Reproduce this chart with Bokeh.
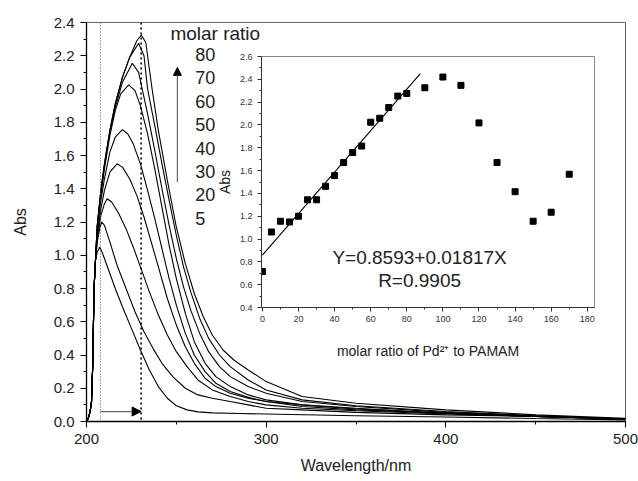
from bokeh.plotting import figure
from bokeh.models import Arrow, NormalHead, Span, FixedTicker, NumeralTickFormatter
from bokeh.layouts import column
from bokeh.core.properties import value
from bokeh.embed import file_html
from bokeh.resources import INLINE

FONT = "Liberation Sans"

# ---- main spectra (wavelength nm, absorbance) ----
rise_wl = [200, 201, 202, 202.8, 203.5, 204.2, 205]
rise_abs = [0.0, 0.02, 0.06, 0.12, 0.35, 0.80, 0.97]

c5_wl = [206, 207.4, 209, 212, 216, 220, 225, 230, 235, 240, 245, 250, 256, 262, 270, 285, 300, 350, 400, 450, 500]
c5_abs = [1.02, 1.05, 1.01, 0.92, 0.80, 0.69, 0.56, 0.43, 0.31, 0.21, 0.14, 0.095, 0.07, 0.058, 0.052, 0.048, 0.045, 0.035, 0.027, 0.018, 0.01]

c10_wl = [206, 207.5, 208.5, 210, 213, 217, 222, 227, 232, 237, 242, 248, 255, 262, 270, 280, 290, 300, 320, 350, 400, 450, 500]
c10_abs = [1.08, 1.17, 1.20, 1.18, 1.08, 0.94, 0.80, 0.66, 0.54, 0.44, 0.35, 0.27, 0.20, 0.16, 0.14, 0.12, 0.10, 0.08, 0.07, 0.055, 0.04, 0.03, 0.015]

c20_wl = [206, 208, 210, 211.5, 214, 218, 222, 226, 230, 235, 240, 245, 250, 256, 262, 270, 280, 290, 300, 320, 350, 400, 450, 500]
c20_abs = [1.10, 1.24, 1.31, 1.34, 1.32, 1.25, 1.16, 1.05, 0.93, 0.78, 0.64, 0.52, 0.42, 0.33, 0.25, 0.19, 0.15, 0.12, 0.10, 0.08, 0.065, 0.045, 0.03, 0.015]

c30_wl = [206, 208, 210, 213, 217, 220, 224, 228, 232, 236, 240, 245, 250, 255, 260, 266, 272, 280, 290, 300, 320, 350, 400, 450, 500]
c30_abs = [1.12, 1.28, 1.39, 1.50, 1.55, 1.53, 1.46, 1.36, 1.23, 1.08, 0.93, 0.74, 0.58, 0.45, 0.35, 0.26, 0.21, 0.17, 0.14, 0.12, 0.09, 0.07, 0.05, 0.03, 0.015]

c40_wl = [206, 208, 210, 213, 216, 220, 223, 226, 230, 234, 238, 242, 246, 250, 255, 260, 266, 272, 280, 290, 300, 320, 350, 400, 450, 500]
c40_abs = [1.15, 1.33, 1.46, 1.62, 1.71, 1.755, 1.73, 1.67, 1.55, 1.39, 1.22, 1.04, 0.86, 0.70, 0.53, 0.40, 0.30, 0.23, 0.18, 0.145, 0.12, 0.10, 0.075, 0.05, 0.03, 0.015]

c50_wl = [206, 208, 210, 213, 216, 219, 223.5, 227, 230, 234, 238, 242, 246, 250, 255, 260, 266, 272, 280, 290, 300, 320, 350, 400, 450, 500]
c50_abs = [1.17, 1.36, 1.52, 1.72, 1.87, 1.97, 2.025, 1.99, 1.90, 1.73, 1.52, 1.29, 1.06, 0.86, 0.65, 0.48, 0.35, 0.27, 0.21, 0.16, 0.13, 0.10, 0.08, 0.05, 0.03, 0.015]

c60_wl = [206, 208, 210, 213, 216, 220, 225.5, 229, 231, 234, 238, 242, 246, 250, 254, 258, 263, 268, 274, 280, 290, 300, 320, 350, 400, 450, 500]
c60_abs = [1.18, 1.38, 1.54, 1.74, 1.89, 2.04, 2.155, 2.10, 2.00, 1.85, 1.63, 1.40, 1.18, 0.98, 0.81, 0.67, 0.53, 0.42, 0.33, 0.27, 0.21, 0.17, 0.12, 0.09, 0.055, 0.035, 0.015]

c70_wl = [206, 208, 210, 213, 216, 220, 224, 229, 232, 234, 238, 242, 246, 250, 254, 258, 263, 268, 274, 280, 290, 300, 320, 350, 400, 450, 500]
c70_abs = [1.18, 1.39, 1.55, 1.75, 1.91, 2.07, 2.19, 2.275, 2.20, 2.00, 1.78, 1.55, 1.33, 1.12, 0.93, 0.78, 0.62, 0.50, 0.40, 0.33, 0.25, 0.19, 0.13, 0.095, 0.06, 0.035, 0.015]

c80_wl = [206, 208, 210, 213, 216, 220, 224, 228, 230.5, 233, 236.5, 240, 245, 250, 255, 260, 265, 270, 276, 282, 290, 300, 320, 350, 400, 450, 500]
c80_abs = [1.18, 1.39, 1.55, 1.75, 1.91, 2.07, 2.19, 2.29, 2.325, 2.28, 2.00, 1.75, 1.45, 1.17, 0.95, 0.77, 0.63, 0.52, 0.43, 0.37, 0.31, 0.24, 0.15, 0.11, 0.07, 0.04, 0.02]

curves = [(c5_wl, c5_abs), (c10_wl, c10_abs), (c20_wl, c20_abs), (c30_wl, c30_abs),
          (c40_wl, c40_abs), (c50_wl, c50_abs), (c60_wl, c60_abs), (c70_wl, c70_abs),
          (c80_wl, c80_abs)]

legend_title = "molar ratio"
legend_labels = ["80", "70", "60", "50", "40", "30", "20", "5"]

main_yticks = [0.0, 0.2, 0.4, 0.6, 0.8, 1.0, 1.2, 1.4, 1.6, 1.8, 2.0, 2.2, 2.4]
main_xticks = [200, 300, 400, 500]

# ---- inset: peak absorbance vs molar ratio ----
ratio = [0, 5, 10, 15, 20, 25, 30, 35, 40, 45, 50, 55, 60, 65, 70, 75, 80, 90, 100, 110, 120, 130, 140, 150, 160, 170]
peak_abs = [0.715, 1.062, 1.156, 1.15, 1.20, 1.344, 1.344, 1.462, 1.556, 1.671, 1.759, 1.815, 2.024, 2.059,
            2.153, 2.253, 2.276, 2.326, 2.42, 2.347, 2.018, 1.671, 1.415, 1.156, 1.235, 1.568]
fit_intercept = 0.8593
fit_slope = 0.01817
fit_x = [0, 87.5]
fit_y = [fit_intercept + fit_slope * x for x in fit_x]
fit_text = ["Y=0.8593+0.01817X", "R=0.9905"]

inset_yticks = [0.4, 0.6, 0.8, 1.0, 1.2, 1.4, 1.6, 1.8, 2.0, 2.2, 2.4, 2.6]
inset_xticks = [0, 20, 40, 60, 80, 100, 120, 140, 160, 180]

TXT = "#222222"
BL, BR = 86, 13   # shared left/right borders (column aligns plot frames)

# ================= main figure =================
p = figure(width=638, height=481, x_range=(200, 500), y_range=(0, 2.4),
           output_backend="svg", toolbar_location=None,
           min_border_left=BL, min_border_right=BR, min_border_top=22, min_border_bottom=60)
p.background_fill_color = "white"
p.border_fill_color = "white"
p.grid.visible = False
p.outline_line_color = "#666666"
p.outline_line_width = 1

for ax in (p.xaxis[0], p.yaxis[0]):
    ax.axis_line_color = "black"
    ax.axis_line_width = 1.3
    ax.major_tick_line_color = "black"
    ax.minor_tick_line_color = "black"
    ax.major_tick_in = 0
    ax.major_tick_out = 6
    ax.minor_tick_in = 0
    ax.minor_tick_out = 3
    ax.major_label_text_font = FONT
    ax.major_label_text_font_size = "15px"
    ax.major_label_text_color = TXT
    ax.axis_label_text_font = FONT
    ax.axis_label_text_font_size = "16px"
    ax.axis_label_text_font_style = "normal"
    ax.axis_label_text_color = TXT

p.xaxis.axis_label = "Wavelength/nm"
p.yaxis.axis_label = "Abs"
p.xaxis.ticker = FixedTicker(ticks=main_xticks, minor_ticks=[250, 350, 450])
p.yaxis.ticker = FixedTicker(ticks=main_yticks,
                             minor_ticks=[0.1, 0.3, 0.5, 0.7, 0.9, 1.1, 1.3, 1.5, 1.7, 1.9, 2.1, 2.3])
p.yaxis.formatter = NumeralTickFormatter(format="0.0")
p.xaxis.major_label_standoff = 6
p.xaxis.axis_label_standoff = 10
p.yaxis.major_label_standoff = 6
p.yaxis.axis_label_standoff = 22

for wl, ab in curves:
    p.line(rise_wl + wl, rise_abs + ab, line_color="black", line_width=1.1)

# dotted guide lines
p.add_layout(Span(location=207.8, dimension="height", line_color="#555555",
                  line_dash="1 2", line_width=1))
p.add_layout(Span(location=230.4, dimension="height", line_color="black",
                  line_dash="2 3", line_width=1.6))

# red-shift arrow
p.add_layout(Arrow(x_start=207.8, y_start=0.06, x_end=230.4, y_end=0.06,
                   line_color="#666666", line_width=1.2,
                   end=NormalHead(size=9, fill_color="black", line_color="black")))
# increasing arrow
p.add_layout(Arrow(x_start=250.6, y_start=1.44, x_end=250.6, y_end=2.13,
                   line_color="#666666", line_width=1.2,
                   end=NormalHead(size=8, fill_color="black", line_color="black")))

# legend text
p.text(x=[246.7], y=[2.335], text=[legend_title], text_font=value(FONT),
       text_font_size="19px", text_color=TXT, text_align="left", text_baseline="middle")
leg_y = [2.207 - 0.1405 * i for i in range(len(legend_labels))]
p.text(x=[260.5] * len(legend_labels), y=leg_y, text=legend_labels, text_font=value(FONT),
       text_font_size="18px", text_color=TXT, text_align="left", text_baseline="middle")

# ================= inset =================
q = figure(width=BL + 333 + BR, height=311, x_range=(-0.5, 184), y_range=(0.4, 2.6),
           output_backend="svg", toolbar_location=None,
           min_border_left=BL, min_border_right=BR, min_border_top=5, min_border_bottom=55)
q.background_fill_color = "white"
q.background_fill_alpha = 0
q.border_fill_alpha = 0
q.grid.visible = False
q.outline_line_color = "#888888"
q.outline_line_width = 1

for ax in (q.xaxis[0], q.yaxis[0]):
    ax.axis_line_color = "#333333"
    ax.axis_line_width = 1
    ax.major_tick_line_color = "#333333"
    ax.minor_tick_line_color = "#333333"
    ax.major_tick_in = 0
    ax.major_tick_out = 4
    ax.minor_tick_in = 0
    ax.minor_tick_out = 2
    ax.major_label_text_font = FONT
    ax.major_label_text_font_size = "9px"
    ax.major_label_text_color = "#333333"
    ax.axis_label_text_font = FONT
    ax.axis_label_text_font_size = "14px"
    ax.axis_label_text_font_style = "normal"
    ax.axis_label_text_color = TXT

q.xaxis.axis_label = "molar ratio of Pd²⁺ to PAMAM"
q.yaxis.axis_label = "Abs"
q.xaxis.ticker = FixedTicker(ticks=inset_xticks, minor_ticks=[10, 30, 50, 70, 90, 110, 130, 150, 170])
q.yaxis.ticker = FixedTicker(ticks=inset_yticks,
                             minor_ticks=[0.5, 0.7, 0.9, 1.1, 1.3, 1.5, 1.7, 1.9, 2.1, 2.3, 2.5])
q.yaxis.formatter = NumeralTickFormatter(format="0.0")
q.xaxis.major_label_standoff = 4
q.xaxis.axis_label_standoff = 18
q.yaxis.major_label_standoff = 5
q.yaxis.axis_label_standoff = 4

q.line(fit_x, fit_y, line_color="black", line_width=1.1)
q.scatter(ratio, peak_abs, marker="square", size=6, fill_color="black", line_color="black")
q.text(x=[87.1, 87.1], y=[0.841, 0.641], text=fit_text, text_font=value(FONT),
       text_font_size="19px", text_color=TXT, text_align="center", text_baseline="middle")

q.styles = {"position": "absolute", "left": f"{261 - BL}px", "top": "51px"}

layout = column(p, q)
layout.styles = {"position": "relative"}

open("out.html", "w").write(file_html(layout, INLINE))
